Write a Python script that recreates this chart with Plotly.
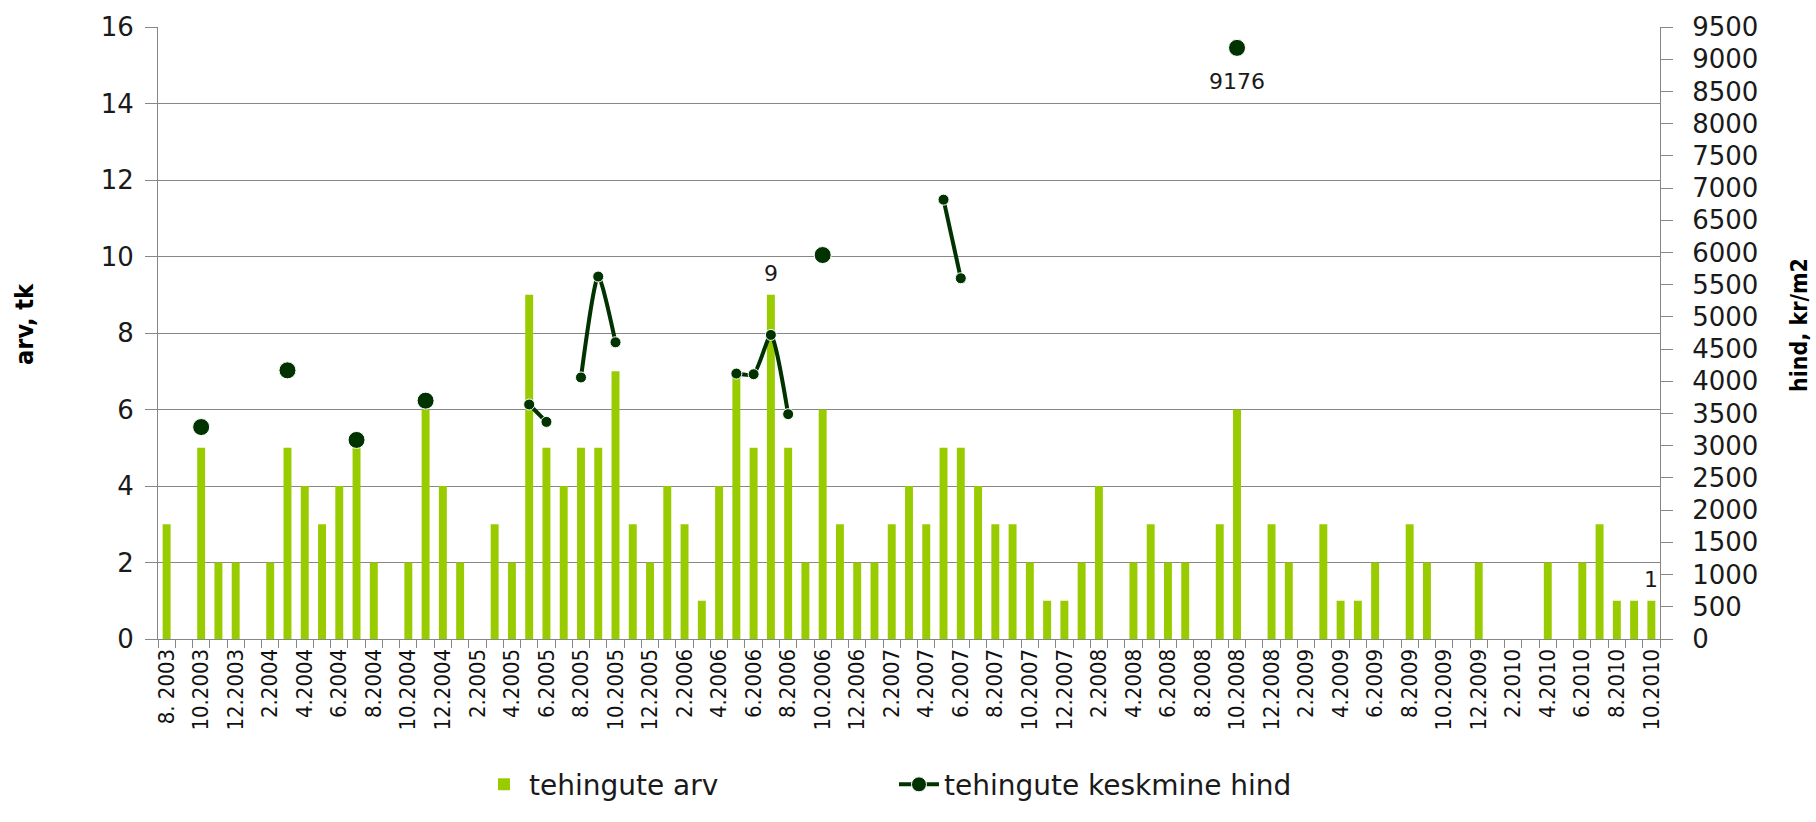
import plotly.graph_objects as go

# Monthly series, 8.2003 .. 10.2010
months = [f"{m}.{y}" for y in range(2003, 2011) for m in range(1, 13)][7:94]

tick_labels = [
    "8. 2003", "10.2003", "12.2003", "2.2004", "4.2004", "6.2004", "8.2004",
    "10.2004", "12.2004", "2.2005", "4.2005", "6.2005", "8.2005", "10.2005",
    "12.2005", "2.2006", "4.2006", "6.2006", "8.2006", "10.2006", "12.2006",
    "2.2007", "4.2007", "6.2007", "8.2007", "10.2007", "12.2007", "2.2008",
    "4.2008", "6.2008", "8.2008", "10.2008", "12.2008", "2.2009", "4.2009",
    "6.2009", "8.2009", "10.2009", "12.2009", "2.2010", "4.2010", "6.2010",
    "8.2010", "10.2010",
]

# tehingute arv (number of transactions per month)
counts = [
    3, 0, 5, 2, 2,                                  # 2003
    0, 2, 5, 4, 3, 4, 5, 2, 0, 2, 6, 4,             # 2004
    2, 0, 3, 2, 9, 5, 4, 5, 5, 7, 3, 2,             # 2005
    4, 3, 1, 4, 7, 5, 9, 5, 2, 6, 3, 2,             # 2006
    2, 3, 4, 3, 5, 5, 4, 3, 3, 2, 1, 1,             # 2007
    2, 4, 0, 2, 3, 2, 2, 0, 3, 6, 0, 3,             # 2008
    2, 0, 3, 1, 1, 2, 0, 3, 2, 0, 0, 2,             # 2009
    0, 0, 0, 2, 0, 2, 3, 1, 1, 1,                   # 2010
]

# tehingute keskmine hind (average price, kr/m2); None = no price data
N = None
avg_price = [
    N, N, 3290, N, N,                                           # 2003
    N, N, 4170, N, N, N, 3090, N, N, N, 3700, N,                # 2004
    N, N, N, N, 3640, 3370, N, 4060, 5626, 4606, N, N,          # 2005
    N, N, N, N, 4120, 4110, 4720, 3490, N, 5960, N, N,          # 2006
    N, N, N, N, 6820, 5600, N, N, N, N, N, N,                   # 2007
    N, N, N, N, N, N, N, N, N, 9176, N, N,                      # 2008
    N, N, N, N, N, N, N, N, N, N, N, N,                         # 2009
    N, N, N, N, N, N, N, N, N, N,                               # 2010
]

count_label_months = ["7.2006", "10.2010"]
price_label_months = ["10.2008"]

BAR = "#99CC00"
LINE = "#003300"
GRID = "#878787"
TXT = "#1a1a1a"
NARROW = "Liberation Sans Narrow, DejaVu Sans Condensed, sans-serif"

x = list(range(len(months)))


def isolated(i):
    left = avg_price[i - 1] if i > 0 else None
    right = avg_price[i + 1] if i + 1 < len(avg_price) else None
    return left is None and right is None


marker_sizes = [17 if isolated(i) else 11 for i in range(len(avg_price))]

fig = go.Figure()
fig.add_trace(go.Bar(
    x=x, y=counts, name="tehingute arv",
    marker=dict(color=BAR, line=dict(width=0)),
    width=0.46,
))
fig.add_trace(go.Scatter(
    x=x, y=avg_price, name="tehingute keskmine hind", yaxis="y2",
    mode="lines+markers", connectgaps=False,
    line=dict(color=LINE, width=4, shape="spline", smoothing=0.6),
    marker=dict(color=LINE, size=marker_sizes, opacity=1),
    cliponaxis=False,
))

# value labels
annotations = []
for m, i, v in zip(months, x, counts):
    if m in count_label_months:
        annotations.append(dict(
            x=i, y=v, xref="x", yref="y", text=str(v), showarrow=False,
            yanchor="middle", yshift=21,
            font=dict(family="DejaVu Sans", size=22, color=TXT)))
for m, i, v in zip(months, x, avg_price):
    if m in price_label_months and v is not None:
        annotations.append(dict(
            x=i, y=v, xref="x", yref="y2", text=str(v), showarrow=False,
            yanchor="middle", yshift=-34,
            font=dict(family="DejaVu Sans", size=22, color=TXT)))

# axis titles
annotations += [
    dict(text="<b>arv, tk</b>", textangle=-90, xref="paper", yref="paper",
         x=-0.0885, y=0.515, xanchor="center", yanchor="middle", showarrow=False,
         font=dict(family=NARROW, size=25, color="black")),
    dict(text="<b>hind, kr/m2</b>", textangle=-90, xref="paper", yref="paper",
         x=1.0925, y=0.513, xanchor="center", yanchor="middle", showarrow=False,
         font=dict(family=NARROW, size=23, color="black")),
]

fig.update_layout(
    width=1816, height=822,
    margin=dict(l=158, r=156, t=23, b=172),
    paper_bgcolor="white", plot_bgcolor="white",
    showlegend=True,
    legend=dict(
        orientation="h", x=0.49, xanchor="center", y=-0.238, yanchor="middle",
        font=dict(family="DejaVu Sans", size=28, color=TXT),
        itemwidth=40, entrywidth=360, tracegroupgap=0,
    ),
    xaxis=dict(
        range=[-0.5, len(months) - 0.5],
        tickmode="array", tickvals=x[::2], ticktext=tick_labels,
        tickangle=-90, ticks="", showgrid=False, zeroline=False,
        showline=True, linecolor=GRID, linewidth=1,
        tickfont=dict(family=NARROW, size=22, color="#111111"),
        minor=dict(tickmode="linear", tick0=-0.5, dtick=1, ticks="outside",
                   ticklen=8, tickcolor=GRID, tickwidth=1, showgrid=False),
    ),
    yaxis=dict(
        range=[0, 16], dtick=2, tick0=0,
        showgrid=True, gridcolor=GRID, gridwidth=1, zeroline=False,
        showline=True, linecolor=GRID, linewidth=1,
        ticks="outside", ticklen=12, tickcolor=GRID, ticklabelstandoff=6,
        tickfont=dict(family="DejaVu Sans", size=26, color=TXT),
    ),
    yaxis2=dict(
        range=[0, 9500], dtick=500, tick0=0, overlaying="y", side="right",
        showgrid=False, zeroline=False,
        showline=True, linecolor=GRID, linewidth=1,
        ticks="outside", ticklen=12, tickcolor=GRID, ticklabelstandoff=14,
        tickfont=dict(family="DejaVu Sans", size=26, color=TXT),
    ),
    annotations=annotations,
)

fig.write_html("out.html")
